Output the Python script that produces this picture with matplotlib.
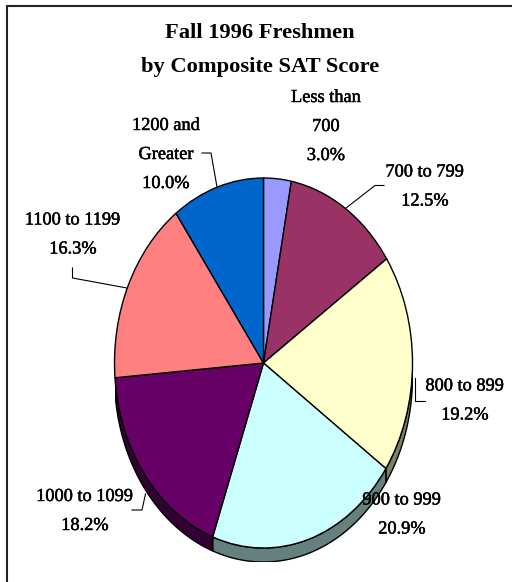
import numpy as np
import matplotlib
matplotlib.use("Agg")
import matplotlib.pyplot as plt
import matplotlib.patheffects as pe
from matplotlib.patches import Rectangle

categories = ["Less than\n700", "700 to 799", "800 to 899", "900 to 999",
              "1000 to 1099", "1100 to 1199", "1200 and\nGreater"]
shares = [3.0, 12.5, 19.2, 20.9, 18.2, 16.3, 10.0]
top_colors = ["#9999FF", "#993366", "#FFFFCC", "#CCFFFF", "#660066", "#FF8080", "#0066CC"]
side_colors = ["#4C4C7F", "#4C1933", "#7F7F66", "#667F7F", "#330033", "#7F4040", "#003366"]

W, H = 512, 582
CX, CY, RX, RY, DEPTH = 263.5, 363.0, 149.0, 185.0, 14.0

plt.rcParams["font.family"] = ["Liberation Serif", "DejaVu Serif"]
fig = plt.figure(figsize=(W / 100, H / 100), dpi=100, facecolor="white")


def pixel_axes(z):
    a = fig.add_axes([0, 0, 1, 1])
    a.set_xlim(0, W)
    a.set_ylim(H, 0)
    a.axis("off")
    a.set_zorder(z)
    return a


bg = pixel_axes(1)
bg.add_patch(Rectangle((6.5, 5.5), 600, 700, fc="white", ec="#222222", lw=1.5))

ax = fig.add_axes([(CX - RX) / W, 1 - (CY + RY + DEPTH) / H, 2 * RX / W, (2 * RY + DEPTH) / H])
ax.set_zorder(2)
ax.patch.set_alpha(0)

# side wall, built from the cumulative shares
fractions = np.array(shares) / sum(shares)
edges = np.concatenate([[0], np.cumsum(fractions)]) * 2 * np.pi
d = DEPTH / RY
for a0, a1, col in zip(edges[:-1], edges[1:], side_colors):
    lo, hi = max(a0, np.pi / 2), min(a1, 3 * np.pi / 2)
    if hi <= lo:
        continue
    t = np.linspace(lo, hi, 80)
    x, y = np.sin(t), np.cos(t)
    ax.fill(np.r_[x, x[::-1]], np.r_[y, y[::-1] - d], fc=col, ec="black", lw=1.0, joinstyle="round")

ax.pie(shares, colors=top_colors, startangle=90, counterclock=False, radius=1,
       wedgeprops=dict(edgecolor="black", linewidth=1.0))
ax.set_aspect("auto")
ax.set_xlim(-1, 1)
ax.set_ylim(-1 - d, 1)
ax.axis("off")

# text and leader lines on top of the pie (pixel coordinates of the reference)
txt = pixel_axes(3)
txt.patch.set_alpha(0)
txt_kw = dict(ha="center", va="center", color="black", zorder=5)
heavier = [pe.withStroke(linewidth=0.35, foreground="black")]
txt.text(260, 33, "Fall 1996 Freshmen", fontsize=16.2, fontweight="bold", **txt_kw)
txt.text(260, 67, "by Composite SAT Score", fontsize=16.2, fontweight="bold", **txt_kw)

label_pos = [(326, 126.5), (425, 186.5), (465, 400.5), (402, 514.5), (85, 511), (73, 234.5), (166, 154.5)]
for name, share, (lx, ly) in zip(categories, shares, label_pos):
    parts = name.split("\n") + [f"{share:.1f}%"]
    n = len(parts)
    for i, p in enumerate(parts):
        txt.text(lx, ly + (i - (n - 1) / 2) * 29.0, p, fontsize=13.2,
                 path_effects=heavier, **txt_kw)

leaders = [
    [(346, 208), (375, 185.5), (384, 185.5)],
    [(414.5, 378), (414.5, 400.5), (425, 400.5)],
    [(145.5, 494), (142, 510), (132, 510)],
    [(127, 288), (72.5, 278), (72.5, 268)],
    [(217, 187), (211, 153), (202, 153)],
]
for seg in leaders:
    xs, ys = zip(*seg)
    txt.plot(xs, ys, color="black", lw=0.8, zorder=4)

fig.savefig("out.png", dpi=100, facecolor="white")
